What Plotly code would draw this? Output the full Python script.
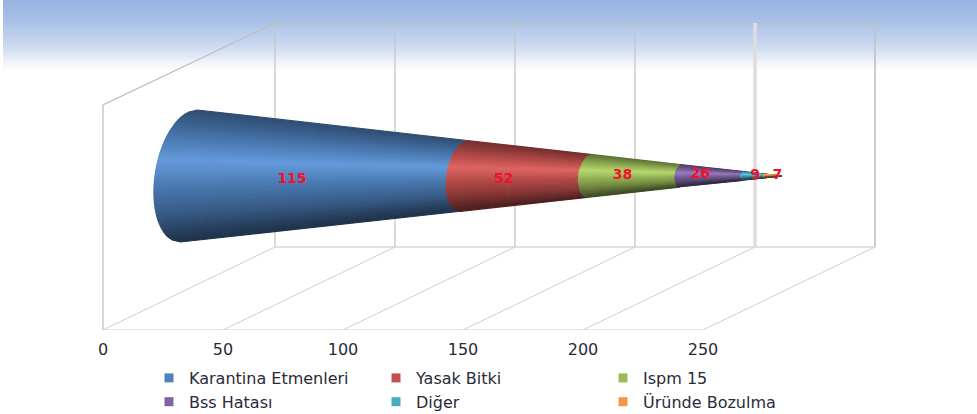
import math
import plotly.graph_objects as go

# ---- data ----
categories = ["Karantina Etmenleri", "Yasak Bitki", "Ispm 15", "Bss Hatası", "Diğer", "Üründe Bozulma"]
values = [115, 52, 38, 26, 9, 7]
tick_values = [0, 50, 100, 150, 200, 250]
colors = ["#4f81bd", "#c0504d", "#9bbb59", "#8064a2", "#4bacc6", "#f79646"]

# ---- projection of the 3-D box ----
W, H = 977, 414
PLOT_W = 877                    # narrower plot area so the legend wraps to three columns
PX_PER_UNIT = 2.4
X0_PX = 103.0
FRONT_Y, BACK_FLOOR_Y, BACK_TOP_Y, FRONT_TOP_Y = 330, 247, 23, 105
DEPTH = 172 / PX_PER_UNIT       # depth shear in axis units
BASE_SEMI_U = 34 / PX_PER_UNIT  # base ellipse, horizontal semi axis (axis units)
BASE_TILT = 8.5 / PX_PER_UNIT   # base ellipse tilt (axis units)
BASE_SEMI_V = 66                # base ellipse, vertical semi axis
CONE_Y = 176
N_STRIPS = 66

fig = go.Figure()


def rgb(c):
    return tuple(int(c[i:i + 2], 16) for i in (1, 3, 5))


def shade(base, t):
    """t = 0 at top of the cone, 1 at bottom."""
    r, g, b = rgb(base)
    bright = tuple(min(255.0, ch * 1.15 + (255 - ch * 1.15) * 0.06) for ch in (r, g, b))
    stops = [(0, .6), (.2, .92), (.38, None), (.6, .92), (.8, .7), (1, .4)]
    def val(s):
        return bright if s is None else (r * s, g * s, b * s)
    for (t0, s0), (t1, s1) in zip(stops, stops[1:]):
        if t <= t1:
            f = (t - t0) / (t1 - t0)
            a, c = val(s0), val(s1)
            return "rgb(%d,%d,%d)" % tuple(a[i] + (c[i] - a[i]) * f for i in range(3))
    return "rgb(%d,%d,%d)" % val(.4)


# ---- wire frame ----
def wire(xs, ys, color="#c6c6c6", width=1.2):
    fig.add_trace(go.Scatter(x=xs, y=ys, mode="lines", line=dict(color=color, width=width),
                             showlegend=False, hoverinfo="skip", cliponaxis=False))


left, right = tick_values[0], tick_values[-1]
wire([left, left, left + DEPTH, right + DEPTH, right + DEPTH],
     [FRONT_Y, FRONT_TOP_Y, BACK_TOP_Y, BACK_TOP_Y, BACK_FLOOR_Y], color="#bdbdbd")
wire([left, right], [FRONT_Y, FRONT_Y])
wire([left + DEPTH, right + DEPTH], [BACK_FLOOR_Y, BACK_FLOOR_Y], color="#d8d8d8", width=1.6)
for v in tick_values:
    wire([v, v + DEPTH], [FRONT_Y, BACK_FLOOR_Y], color="#cfcfcf", width=1)
    wide = v == 200
    wire([v + DEPTH, v + DEPTH], [BACK_TOP_Y, BACK_FLOOR_Y],
         color="#dedede" if wide else "#c6c6c6", width=3.5 if wide else 1.3)

# ---- cone ----
total = sum(values)
s_grid = [1 - 2 * i / N_STRIPS for i in range(N_STRIPS + 1)]  # +1 top … -1 bottom


def point(v, s):
    k = 1 - v / total
    c = math.sqrt(max(0.0, 1 - s * s))
    return (v + DEPTH / 2 - k * BASE_SEMI_U * c + k * BASE_TILT * s, CONE_Y - k * BASE_SEMI_V * s)


start = 0
for val, col in zip(values, colors):
    end = start + val
    for i in range(N_STRIPS):
        s0, s1 = s_grid[i], s_grid[i + 1]
        pts = [point(start, s0), point(end, s0), point(end, s1), point(start, s1), point(start, s0)]
        c = shade(col, (i + .5) / N_STRIPS)
        fig.add_trace(go.Scatter(x=[p[0] for p in pts], y=[p[1] for p in pts], mode="lines",
                                 fill="toself", fillcolor=c, line=dict(color=c, width=1.2),
                                 showlegend=False, hoverinfo="skip"))
    start = end

# ---- data labels ----
label_dx_px = [-35, -24, -13, -12, 1, 4]
label_y = [179, 179, 175, 174, 175, 175]
start = 0
for val, dx, ly in zip(values, label_dx_px, label_y):
    mid = start + val / 2
    fig.add_trace(go.Scatter(x=[mid + DEPTH / 2 + dx / PX_PER_UNIT], y=[ly], mode="text", text=[str(val)],
                             textposition="middle center",
                             textfont=dict(family="DejaVu Sans", size=14, color="#f2102a", weight=700),
                             showlegend=False, hoverinfo="skip"))
    start += val

# ---- legend entries ----
for name, col in zip(categories, colors):
    fig.add_trace(go.Scatter(x=[None], y=[None], mode="markers", name=name,
                             marker=dict(symbol="square", size=9, color=col)))

# ---- header band ----
band_stops = [(0, (152, 180, 226)), (23, (172, 195, 232)), (47, (206, 219, 241)), (62, (240, 244, 251)), (71, (255, 255, 255))]
shapes = []
for y in range(0, 71):
    for (y0, c0), (y1, c1) in zip(band_stops, band_stops[1:]):
        if y <= y1:
            f = (y + .5 - y0) / (y1 - y0)
            col = "rgb(%d,%d,%d)" % tuple(c0[i] + (c1[i] - c0[i]) * f for i in range(3))
            break
    shapes.append(dict(type="rect", layer="below", xref="paper", yref="y", x0=3 / PLOT_W, x1=W / PLOT_W,
                       y0=y, y1=y + 1.2, fillcolor=col, line_width=0))

fig.update_layout(
    width=W, height=H,
    margin=dict(l=0, r=W - PLOT_W, t=0, b=H - FRONT_Y, pad=0, autoexpand=False),
    paper_bgcolor="white", plot_bgcolor="rgba(0,0,0,0)",
    shapes=shapes,
    xaxis=dict(range=[-X0_PX / PX_PER_UNIT, (PLOT_W - X0_PX) / PX_PER_UNIT], tickvals=tick_values,
               showgrid=False, zeroline=False, showline=False, ticks="outside", ticklen=5,
               tickcolor="rgba(0,0,0,0)", automargin=False,
               tickfont=dict(family="DejaVu Sans", size=16, color="#2a2a38")),
    yaxis=dict(range=[FRONT_Y, 0], visible=False),
    legend=dict(orientation="h", x=149 / PLOT_W, xanchor="left", y=1 - 361 / FRONT_Y, yanchor="top",
                entrywidth=182, entrywidthmode="pixels", bgcolor="rgba(0,0,0,0)",
                font=dict(family="DejaVu Sans", size=16, color="#2a2a38"), itemclick=False),
    showlegend=True,
)

fig.write_html("out.html", post_script="document.body.style.margin='0';",
               config=dict(displayModeBar=False))
